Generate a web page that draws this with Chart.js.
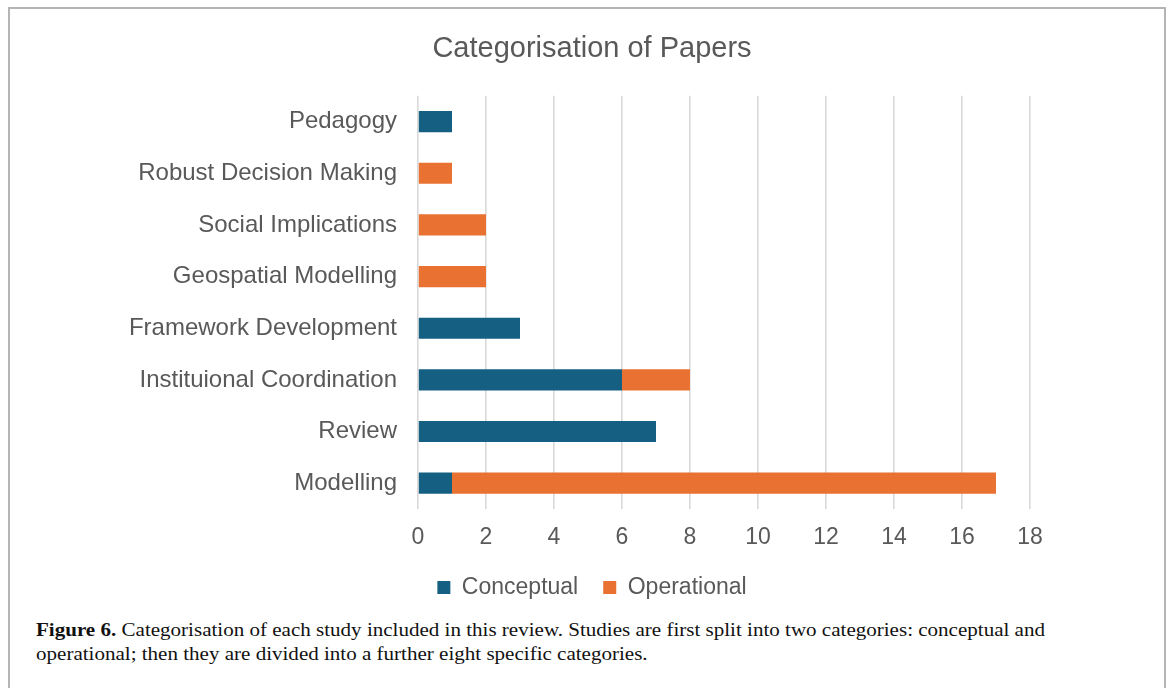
<!DOCTYPE html>
<html>
<head>
<meta charset="utf-8">
<script src="https://cdn.jsdelivr.net/npm/chart.js@4.4.1/dist/chart.umd.min.js"></script>
<style>
  html, body { margin: 0; padding: 0; background: #fff; width: 1171px; height: 688px; overflow: hidden; }
  #frame { position: absolute; left: 8px; top: 7px; width: 1154px; height: 720px;
           border: 2px solid #b4b4b4; border-bottom: none; }
  #wrap { position: absolute; left: 0; top: 0; width: 1154px; height: 600px; }
  #caption { position: absolute; left: 26px; top: 609px; white-space: nowrap;
             font-family: "Liberation Serif", "DejaVu Serif", serif; font-size: 19.5px;
             line-height: 24px; color: #111; transform-origin: 0 0; }
  #caption span { display: block; }
  #caption b { font-weight: bold; }
</style>
</head>
<body>
<div id="frame">
  <div id="wrap"><canvas id="chart"></canvas></div>
  <div id="caption"><span id="cap1"><b>Figure 6.</b> Categorisation of each study included in this review. Studies are first split into two categories: conceptual and</span><span>operational; then they are divided into a further eight specific categories.</span></div>
</div>
<script>
// Paper categories, listed top-to-bottom as they appear on the axis
const categories = [
  "Pedagogy",
  "Robust Decision Making",
  "Social Implications",
  "Geospatial Modelling",
  "Framework Development",
  "Instituional Coordination",
  "Review",
  "Modelling"
];
// Number of papers per category in each study type
const conceptual  = [1, 0, 0, 0, 3, 6, 7, 1];
const operational = [0, 1, 2, 2, 0, 2, 0, 16];
const xTicks = [0, 2, 4, 6, 8, 10, 12, 14, 16, 18];

const FONT = "'Liberation Sans', Arial, sans-serif";
const GREY = "#595959";

// Stretch the caption's first line to the text block width
const cap = document.getElementById("caption");
const w1 = document.getElementById("cap1").getBoundingClientRect().width;
cap.style.transform = "scaleX(" + (1009 / w1) + ")";

new Chart(document.getElementById("chart"), {
  type: "bar",
  data: {
    labels: categories,
    datasets: [
      { label: "Conceptual",  data: conceptual,  backgroundColor: "#156082",
        barPercentage: 0.41, categoryPercentage: 1 },
      { label: "Operational", data: operational, backgroundColor: "#E97132",
        barPercentage: 0.41, categoryPercentage: 1 }
    ]
  },
  options: {
    indexAxis: "y",
    responsive: true,
    maintainAspectRatio: false,
    animation: false,
    layout: { padding: { left: 10, right: 0, top: 0, bottom: 0 } },
    scales: {
      x: {
        stacked: true,
        min: 0, max: 18,
        afterBuildTicks: (s) => { s.ticks = xTicks.map(v => ({ value: v })); },
        afterFit: (s) => { s.height = 42; },
        grid: { color: "#d9d9d9", lineWidth: 1.6, drawTicks: false },
        border: { display: false },
        ticks: { color: GREY, font: { family: FONT, size: 23 }, padding: 15 }
      },
      y: {
        stacked: true,
        afterFit: (s) => { s.width = 398; },
        grid: { display: false, drawTicks: false },
        border: { display: false },
        ticks: { color: GREY, font: { family: FONT, size: 24 }, padding: 21 }
      },
      // empty right-hand margin beside the plot; keeps title and legend centred on the full width
      margin: {
        type: "category",
        position: "right",
        afterFit: (s) => { s.width = 134; },
        grid: { display: false, drawTicks: false },
        border: { display: false },
        ticks: { display: false }
      }
    },
    plugins: {
      title: {
        display: true,
        text: "Categorisation of Papers",
        color: GREY,
        font: { family: FONT, size: 29, weight: "normal" },
        padding: { top: 23, bottom: 29 }
      },
      legend: {
        position: "bottom",
        labels: {
          color: GREY,
          font: { family: FONT, size: 23 },
          boxWidth: 13, boxHeight: 13,
          padding: 25
        }
      },
      tooltip: { enabled: false }
    }
  }
});
</script>
</body>
</html>
